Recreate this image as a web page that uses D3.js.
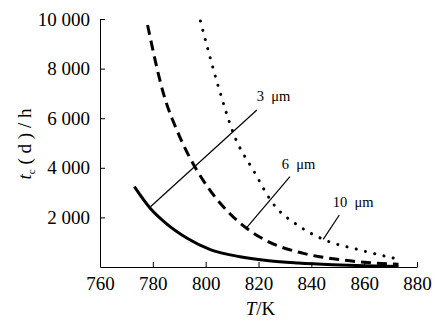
<!DOCTYPE html>
<html>
<head>
<meta charset="utf-8">
<script src="https://cdn.jsdelivr.net/npm/d3@7"></script>
<style>
  body { margin: 0; background: #fff; }
  svg { display: block; }
  svg text { font-family: 'Liberation Serif', serif !important; }
</style>
</head>
<body>
<svg></svg>
<script>
// T/K and t_c(d)/h for each grain size
const temps3 = [773, 779, 785, 793, 802, 813, 824, 835, 848, 860, 873]
const vals3  = [3240, 2370, 1760, 1160, 690, 415, 254, 165, 95, 50, 25]
const temps6 = [778, 784, 790, 796.6, 801.6, 809, 815.5, 823, 837, 852, 873]
const vals6  = [9760, 7000, 5300, 3910, 3100, 2170, 1560, 1060, 550, 280, 110]
const temps10 = [798, 805, 810.5, 818.7, 825, 835.7, 844.5, 858.4, 872.3]
const vals10  = [9920, 7200, 5390, 3780, 2630, 1625, 1117, 685, 330]

const xTicks = [760, 780, 800, 820, 840, 860, 880]
const yTicks = [2000, 4000, 6000, 8000, 10000]

// labels: [text, T, t], leader lines: [T1, t1, T2, t2]
const labels = [["3 μm", 819.3, 6700], ["6 μm", 828.8, 3950], ["10 μm", 848.1, 2430]]
const leaders = [[819.4, 6330, 778.9, 2407], [831.9, 3641, 815.3, 1560], [850.6, 2097, 844.5, 1117]]

const serif = 'Liberation Serif, serif'
const width = 442, height = 320
const margin = { top: 19, right: 25, bottom: 53, left: 100 }

const svg = d3.select('svg').attr('width', width).attr('height', height)
    .attr('font-family', serif)

const x = d3.scaleLinear().domain([760, 880]).range([margin.left, width - margin.right])
const y = d3.scaleLinear().domain([0, 10000]).range([height - margin.bottom, margin.top])

const fmt = d => d3.format(',')(d).replace(',', ' ')

const styleAxis = g => {
    g.attr('font-family', null).attr('font-size', 19)
    g.selectAll('path, line').attr('stroke', '#000')
    g.selectAll('text').attr('fill', '#000').style('font-family', serif)
}

svg.append('g')
    .attr('transform', `translate(0,${y(0)})`)
    .call(d3.axisBottom(x).tickValues(xTicks).tickSizeInner(-5).tickSizeOuter(0).tickPadding(8))
    .call(styleAxis)
    .call(g => g.selectAll('text').attr('dy', '0.8em'))

svg.append('g')
    .attr('transform', `translate(${x(760)},0)`)
    .call(d3.axisLeft(y).tickValues(yTicks).tickFormat(fmt).tickSizeInner(-5).tickSizeOuter(0).tickPadding(10))
    .call(styleAxis)

const line = d3.line().x(d => x(d[0])).y(d => y(d[1])).curve(d3.curveMonotoneX)

const series = [
    { t: temps3, v: vals3, dash: null, cap: 'butt' },
    { t: temps6, v: vals6, dash: '10,6', cap: 'butt' },
    { t: temps10, v: vals10, dash: '0.1,9.4', cap: 'round' }
]

svg.selectAll('.curve')
    .data(series)
    .join('path')
    .attr('class', 'curve')
    .attr('d', s => line(d3.zip(s.t, s.v)))
    .attr('fill', 'none')
    .attr('stroke', '#000')
    .attr('stroke-width', 3)
    .attr('stroke-linecap', s => s.cap)
    .attr('stroke-dasharray', s => s.dash)

svg.selectAll('.leader')
    .data(leaders)
    .join('line')
    .attr('class', 'leader')
    .attr('x1', d => x(d[0])).attr('y1', d => y(d[1]))
    .attr('x2', d => x(d[2])).attr('y2', d => y(d[3]))
    .attr('stroke', '#000')
    .attr('stroke-width', 1.2)

svg.selectAll('.lab')
    .data(labels)
    .join('text')
    .attr('class', 'lab')
    .attr('x', d => x(d[1])).attr('y', d => y(d[2]))
    .attr('font-size', 14.5)
    .style('white-space', 'pre')
    .text(d => d[0].replace(' ', '  '))

// axis titles
const xt = svg.append('text')
    .attr('x', (x(760) + x(880)) / 2 + 2).attr('y', 315)
    .attr('text-anchor', 'middle').attr('font-size', 19)
xt.append('tspan').attr('font-style', 'italic').text('T')
xt.append('tspan').text('/K')

const yt = svg.append('text')
    .attr('transform', 'translate(31,144) rotate(-90)')
    .attr('text-anchor', 'middle').attr('font-size', 19)
    .style('white-space', 'pre')
yt.append('tspan').attr('font-style', 'italic').text('t')
yt.append('tspan').attr('font-size', 11).attr('dy', 4).text('c')
yt.append('tspan').attr('dy', -4).text(' ( d ) / h')
</script>
</body>
</html>
